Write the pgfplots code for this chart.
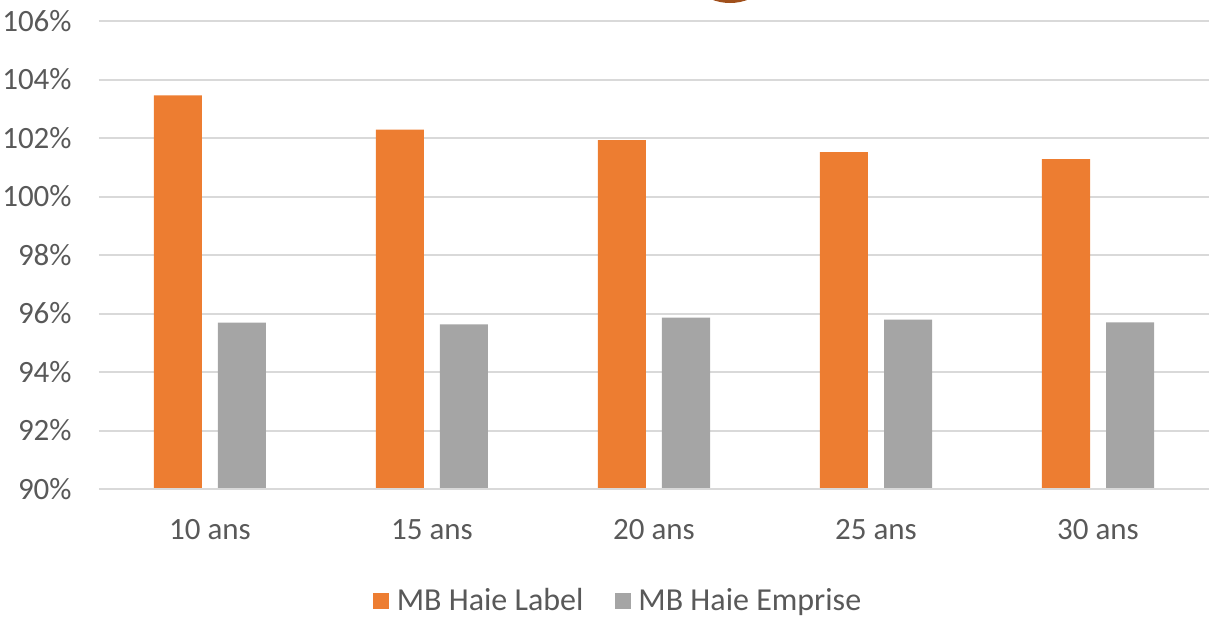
\documentclass[border=0pt]{standalone}
\usepackage{pgfplots}
\pgfplotsset{compat=1.18}
\usepackage{fontspec}
\setmainfont{Carlito}
\definecolor{cOrange}{HTML}{ED7D31}
\definecolor{cGray}{HTML}{A5A5A5}
\definecolor{cGrid}{HTML}{D9D9D9}
\definecolor{cText}{HTML}{595959}
\definecolor{cBrown}{HTML}{A0501C}
\begin{document}
\begin{tikzpicture}
\useasboundingbox (-49.5pt,-64.5pt) rectangle (555pt,244.5pt);
\clip (-49.5pt,-64.5pt) rectangle (555pt,244.5pt);
\begin{axis}[
  at={(0pt,0pt)}, anchor=south west,
  scale only axis, width=555pt, height=234pt,
  xmin=-0.5, xmax=4.5, ymin=90, ymax=106,
  ybar=8pt, bar width=24pt,
  axis line style={draw=none},
  axis x line*=bottom,
  xtick=data, xticklabels={10 ans,15 ans,20 ans,25 ans,30 ans},
  ytick={90,92,...,106},
  yticklabels={90\%,92\%,94\%,96\%,98\%,100\%,102\%,104\%,106\%},
  major tick length=0pt,
  ymajorgrids, grid style={cGrid, line width=1pt},
  tick label style={font=\fontsize{15.5}{18}\selectfont, text=cText},
  yticklabel style={anchor=east, inner sep=0pt, xshift=-13.5pt},
  xticklabel style={anchor=north, inner sep=0pt, yshift=-15pt},
  legend columns=2,
  legend style={at={(0.4667,-0.2393)}, anchor=center, draw=none, fill=none,
    font=\fontsize{16}{18}\selectfont, text=cText,
    nodes={inner sep=0pt},
    /tikz/every odd column/.append style={column sep=4pt},
    /tikz/every even column/.append style={column sep=15.5pt}},
  legend image code/.code={\fill[#1] (0pt,-4pt) rectangle (8pt,4pt);},
  clip=false,
]
\addplot[fill=cOrange, draw=none] coordinates {(0,103.46) (1,102.29) (2,101.93) (3,101.52) (4,101.28)};
\addplot[fill=cGray, draw=none] coordinates {(0,95.69) (1,95.63) (2,95.86) (3,95.79) (4,95.70)};
\legend{MB Haie Label, MB Haie Emprise}
\draw[cGrid, line width=1pt] (rel axis cs:0,0) -- (rel axis cs:1,0);
\end{axis}
\fill[cBrown] (315.5pt,268pt) circle (25pt);
\end{tikzpicture}
\end{document}
